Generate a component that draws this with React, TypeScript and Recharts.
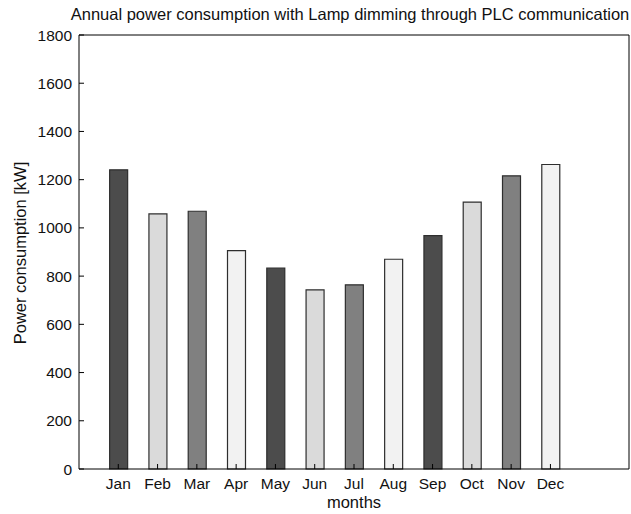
import React from 'react';
import { BarChart, Bar, XAxis, YAxis, Cell } from 'recharts';

const months = ['Jan', 'Feb', 'Mar', 'Apr', 'May', 'Jun', 'Jul', 'Aug', 'Sep', 'Oct', 'Nov', 'Dec'];
const monthPositions = [1, 2, 3, 4, 5, 6, 7, 8, 9, 10, 11, 12];
const consumption = [1241, 1058, 1069, 906, 833, 743, 764, 870, 968, 1107, 1216, 1263];
const barColors = [
  '#4c4c4c', '#dadada', '#808080', '#f2f2f2',
  '#4c4c4c', '#dadada', '#808080', '#f2f2f2',
  '#4c4c4c', '#dadada', '#808080', '#f2f2f2',
];
const yTicks = [0, 200, 400, 600, 800, 1000, 1200, 1400, 1600, 1800];

const titleText = 'Annual power consumption with Lamp dimming through PLC communication';
const xLabel = 'months';
const yLabel = 'Power consumption [kW]';

const data = months.map((m, i) => ({ x: monthPositions[i], month: m, value: consumption[i] }));

const FONT = '"Liberation Sans", Arial, sans-serif';
const tickStyle = { fontSize: 15.5, fill: '#111', fontFamily: FONT };

export default function App() {
  return (
    <div style={{ position: 'absolute', left: 0, top: 0, width: 631, height: 514, background: '#fff', fontFamily: FONT }}>
      <BarChart
        width={631}
        height={514}
        data={data}
        margin={{ top: 34, right: 1, left: 0, bottom: 0 }}
        style={{ position: 'absolute', left: 0, top: 0 }}
      >
        <XAxis
          dataKey="x"
          type="number"
          domain={[0, 14]}
          ticks={monthPositions}
          tickFormatter={(v: number) => months[v - 1]}
          height={45}
          tickSize={-5}
          tickMargin={14}
          interval={0}
          axisLine={{ stroke: '#000', strokeWidth: 1 }}
          tickLine={{ stroke: '#000' }}
          tick={tickStyle}
        />
        <XAxis
          xAxisId="top"
          dataKey="x"
          type="number"
          orientation="top"
          domain={[0, 14]}
          ticks={monthPositions}
          height={1}
          tickSize={-5}
          interval={0}
          tick={false}
          axisLine={{ stroke: '#000', strokeWidth: 1 }}
          tickLine={{ stroke: '#000' }}
        />
        <YAxis
          type="number"
          domain={[0, 1800]}
          ticks={yTicks}
          width={79}
          tickSize={-5}
          tickMargin={12}
          interval={0}
          axisLine={{ stroke: '#000', strokeWidth: 1 }}
          tickLine={{ stroke: '#000' }}
          tick={tickStyle}
        />
        <YAxis
          yAxisId="right"
          orientation="right"
          type="number"
          domain={[0, 1800]}
          ticks={yTicks}
          width={1}
          tickSize={-5}
          interval={0}
          tick={false}
          axisLine={{ stroke: '#000', strokeWidth: 1 }}
          tickLine={{ stroke: '#000' }}
        />
        <Bar dataKey="value" barSize={18} stroke="#2e2e2e" strokeWidth={1.2} isAnimationActive={false}>
          {data.map((d, i) => (
            <Cell key={d.month} fill={barColors[i]} />
          ))}
        </Bar>
      </BarChart>
      <div style={{ position: 'absolute', left: 350, top: 5, transform: 'translateX(-50%)', whiteSpace: 'nowrap', fontSize: 16.5, color: '#111' }}>
        {titleText}
      </div>
      <div style={{ position: 'absolute', left: 20, top: 253, transform: 'translate(-50%, -50%) rotate(-90deg)', whiteSpace: 'nowrap', fontSize: 16.5, color: '#111' }}>
        {yLabel}
      </div>
      <div style={{ position: 'absolute', left: 354, top: 493, transform: 'translateX(-50%)', whiteSpace: 'nowrap', fontSize: 16.5, color: '#111' }}>
        {xLabel}
      </div>
    </div>
  );
}
